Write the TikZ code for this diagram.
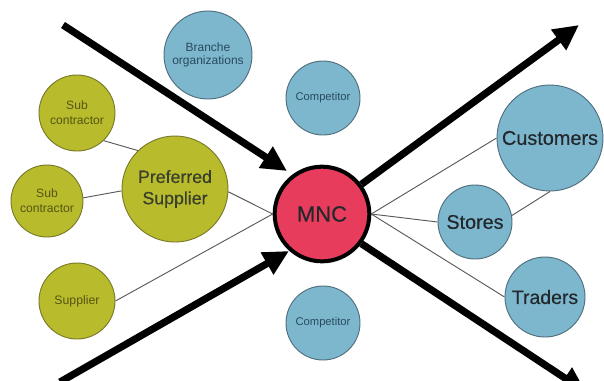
\documentclass[tikz,border=0pt]{standalone}
\usepackage{fontspec}
\setmainfont{Liberation Sans}
\newfontfamily\heavy{Liberation Sans}[FakeBold=0.5]
\usetikzlibrary{arrows.meta}
\definecolor{olive}{RGB}{184,187,44}
\definecolor{oliveedge}{RGB}{120,122,40}
\definecolor{skyb}{RGB}{125,183,206}
\definecolor{skyedge}{RGB}{80,110,125}
\definecolor{mncred}{RGB}{232,60,92}
\definecolor{darktxt}{RGB}{35,40,45}
\definecolor{olivetxt}{RGB}{85,85,20}
\definecolor{bluetxt}{RGB}{40,75,95}
\tikzset{
  bub/.style={circle, draw=#1, line width=0.7pt, inner sep=0pt, align=center},
  green/.style={bub=oliveedge, fill=olive},
  blue/.style={bub=skyedge, fill=skyb},
  thin line/.style={draw=black!65, line width=0.7pt},
  big arrow/.style={line width=5.4pt, -{Triangle[length=19pt,width=18pt]}},
}
\begin{document}
\begin{tikzpicture}[x=0.75pt,y=-0.75pt]
\useasboundingbox (0,0) rectangle (604,380);
\clip (0,0) rectangle (604,380);
% nodes
\node[draw=black, line width=3pt, fill=mncred, circle, minimum size=71pt, inner sep=0pt,
      text=darktxt, font=\heavy\fontsize{16.5}{18}\selectfont] (mnc) at (322,214) {MNC};
\node[blue, minimum size=79.5pt, text=darktxt, font=\heavy\fontsize{14.9}{17}\selectfont] (cust) at (550,138) {Customers};
\node[blue, minimum size=55.5pt, text=darktxt, font=\heavy\fontsize{14.8}{17}\selectfont] (stores) at (475,222) {Stores};
\node[blue, minimum size=60pt, text=darktxt, font=\heavy\fontsize{14.6}{17}\selectfont] (traders) at (545,297) {Traders};
\node[blue, minimum size=55.5pt, text=bluetxt, font=\fontsize{8.4}{10}\selectfont] (comptop) at (323,98) {Competitor};
\node[blue, minimum size=55.5pt, text=bluetxt, font=\fontsize{8.4}{10}\selectfont] (compbot) at (323,323) {Competitor};
\node[blue, minimum size=66pt, text=bluetxt, font=\fontsize{9}{10}\selectfont] (branche) at (208,55) {Branche\\organizations};
\node[green, minimum size=57pt, text=olivetxt, font=\fontsize{9.1}{11.3}\selectfont] (subA) at (77,113) {Sub\\contractor};
\node[green, minimum size=54pt, text=olivetxt, font=\fontsize{9.1}{11.3}\selectfont] (subB) at (47,201) {Sub\\contractor};
\node[green, minimum size=79.5pt, text=darktxt!85!olive, font=\heavy\fontsize{13.3}{16}\selectfont] (pref) at (175,189) {Preferred\\Supplier};
\node[green, minimum size=57pt, text=olivetxt, font=\fontsize{9.2}{11}\selectfont] (supp) at (77,301) {Supplier};
% free ends of the big arrows
\coordinate (tlS) at (63,25);
\coordinate (tlE) at (287,171);
\coordinate (blS) at (60,382);
\coordinate (blE) at (289,251);
\coordinate (trE) at (579,25);
\coordinate (brE) at (586,392);
% thin connectors
\draw[thin line] (subA.-46) -- (pref.134);
\draw[thin line] (subB.5) -- (pref.182);
\draw[thin line] (pref.-3) -- (mnc.west);
\draw[thin line] (supp.east) -- (mnc.west);
\draw[thin line] (mnc.east) -- (cust.west);
\draw[thin line] (mnc.east) -- (stores.west);
\draw[thin line] (mnc.east) -- (traders.west);
\draw[thin line] (stores.10) -- (cust.south);
% big arrows
\draw[big arrow] (tlS) -- (tlE);
\draw[big arrow] (blS) -- (blE);
\draw[big arrow] (mnc.37) -- (trE);
\draw[big arrow] (mnc.-37) -- (brE);
\end{tikzpicture}
\end{document}
